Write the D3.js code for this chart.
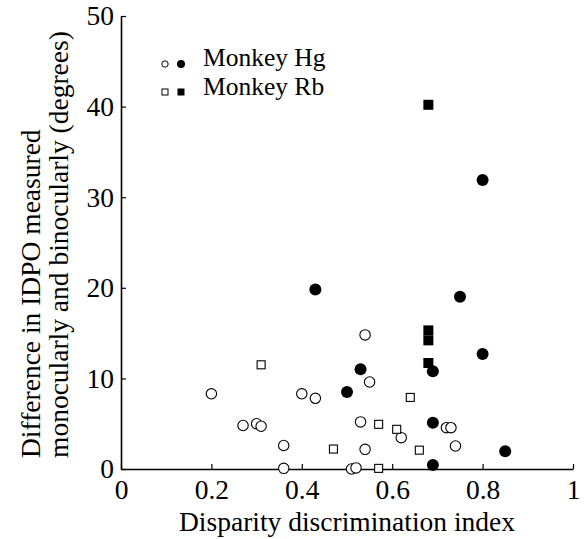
<!DOCTYPE html>
<html>
<head>
<meta charset="utf-8">
<script src="https://cdn.jsdelivr.net/npm/d3@7"></script>
<style>
  html, body { margin: 0; padding: 0; background: #fff; }
  svg { display: block; }
</style>
</head>
<body>
<script>
// Monkey Hg — open circles
const hgOpen = [
  [0.54, 14.8], [0.55, 9.6], [0.20, 8.3], [0.40, 8.3], [0.43, 7.8],
  [0.27, 4.8], [0.30, 5.0], [0.31, 4.72], [0.53, 5.2], [0.72, 4.56],
  [0.73, 4.56], [0.62, 3.46], [0.36, 2.6], [0.54, 2.17], [0.74, 2.54],
  [0.36, 0.07], [0.51, 0.0], [0.52, 0.12]
];
// Monkey Hg — filled circles
const hgFilled = [
  [0.43, 19.8], [0.75, 19.0], [0.80, 31.9], [0.80, 12.7], [0.53, 11.0],
  [0.69, 10.8], [0.50, 8.5], [0.69, 5.1], [0.85, 1.95], [0.69, 0.44]
];
// Monkey Rb — open squares
const rbOpen = [
  [0.31, 11.5], [0.64, 7.9], [0.57, 4.93], [0.61, 4.38], [0.47, 2.2],
  [0.66, 2.08], [0.57, 0.07]
];
// Monkey Rb — filled squares
const rbFilled = [
  [0.68, 40.2], [0.68, 15.3], [0.68, 14.2], [0.68, 11.7]
];

const xTicks = [0, 0.2, 0.4, 0.6, 0.8, 1];
const xTickLabels = ["0", "0.2", "0.4", "0.6", "0.8", "1"];
const yTicks = [0, 10, 20, 30, 40, 50];
const legendLabels = ["Monkey Hg", "Monkey Rb"];
const xTitle = "Disparity discrimination index";
const yTitleLines = ["Difference in IDPO measured", "monocularly and binocularly (degrees)"];

const W = 584, H = 539;
const FONT_FAMILY = "Liberation Serif";
const FONT = 27.5;
const LEGEND_FONT = 25.5;

const svg = d3.select("body").append("svg").attr("width", W).attr("height", H);

const x = d3.scaleLinear().domain([0, 1]).range([121, 573]);
const y = d3.scaleLinear().domain([0, 50]).range([469, 16]);

function styleText(sel, size = FONT) {
  return sel.style("font-family", FONT_FAMILY).style("font-size", size + "px").style("fill", "#000");
}

// Axes with inward ticks
const xAxis = d3.axisBottom(x).tickValues(xTicks)
  .tickFormat((d, i) => xTickLabels[i]).tickSizeInner(-5).tickSizeOuter(0).tickPadding(12);
const yAxis = d3.axisLeft(y).tickValues(yTicks)
  .tickFormat(d3.format("d")).tickSizeInner(-5).tickSizeOuter(0).tickPadding(7);

const gx = svg.append("g").attr("transform", `translate(0,${y(0)})`).call(xAxis);
const gy = svg.append("g").attr("transform", `translate(${x(0)},0)`).call(yAxis);

[gx, gy].forEach(g => {
  g.select(".domain").attr("stroke", "#000").attr("stroke-width", 1.6);
  g.selectAll(".tick line").attr("stroke", "#000").attr("stroke-width", 1.2);
  styleText(g.selectAll(".tick text"));
});
gx.selectAll(".tick text").attr("y", 10);

// Axis titles
styleText(svg.append("text")
  .attr("x", (x(0) + x(1)) / 2).attr("y", 531)
  .attr("text-anchor", "middle"))
  .text(xTitle);

// Two-line y title, both lines starting from the same bottom edge
const yTitleBaselines = [40, 68];
const yTitleStart = 458;
yTitleLines.forEach((t, i) => {
  styleText(svg.append("text")
    .attr("transform", `translate(${yTitleBaselines[i]},${yTitleStart}) rotate(-90)`)
    .attr("text-anchor", "start"))
    .text(t);
});

// Markers
const plot = svg.append("g");
plot.selectAll("circle.hg-open").data(hgOpen).join("circle")
  .attr("class", "hg-open")
  .attr("cx", d => x(d[0])).attr("cy", d => y(d[1])).attr("r", 5.2)
  .attr("fill", "#fff").attr("stroke", "#000").attr("stroke-width", 1.1);
plot.selectAll("circle.hg-filled").data(hgFilled).join("circle")
  .attr("class", "hg-filled")
  .attr("cx", d => x(d[0])).attr("cy", d => y(d[1])).attr("r", 6)
  .attr("fill", "#000");
const so = 8, sf = 10;
plot.selectAll("rect.rb-open").data(rbOpen).join("rect")
  .attr("class", "rb-open")
  .attr("x", d => x(d[0]) - so / 2).attr("y", d => y(d[1]) - so / 2)
  .attr("width", so).attr("height", so)
  .attr("fill", "#fff").attr("stroke", "#000").attr("stroke-width", 1.1);
plot.selectAll("rect.rb-filled").data(rbFilled).join("rect")
  .attr("class", "rb-filled")
  .attr("x", d => x(d[0]) - sf / 2).attr("y", d => y(d[1]) - sf / 2)
  .attr("width", sf).attr("height", sf)
  .attr("fill", "#000");

// Legend
const leg = svg.append("g");
leg.append("circle").attr("cx", 165).attr("cy", 64).attr("r", 3.2)
  .attr("fill", "#fff").attr("stroke", "#000").attr("stroke-width", 1);
leg.append("circle").attr("cx", 181).attr("cy", 64).attr("r", 4).attr("fill", "#000");
leg.append("rect").attr("x", 162).attr("y", 89).attr("width", 6).attr("height", 6)
  .attr("fill", "#fff").attr("stroke", "#000").attr("stroke-width", 1);
leg.append("rect").attr("x", 177.5).attr("y", 88.5).attr("width", 7).attr("height", 7)
  .attr("fill", "#000");
legendLabels.forEach((t, i) => {
  styleText(leg.append("text").attr("x", 203).attr("y", 66 + i * 28.5), LEGEND_FONT).text(t);
});
</script>
</body>
</html>
